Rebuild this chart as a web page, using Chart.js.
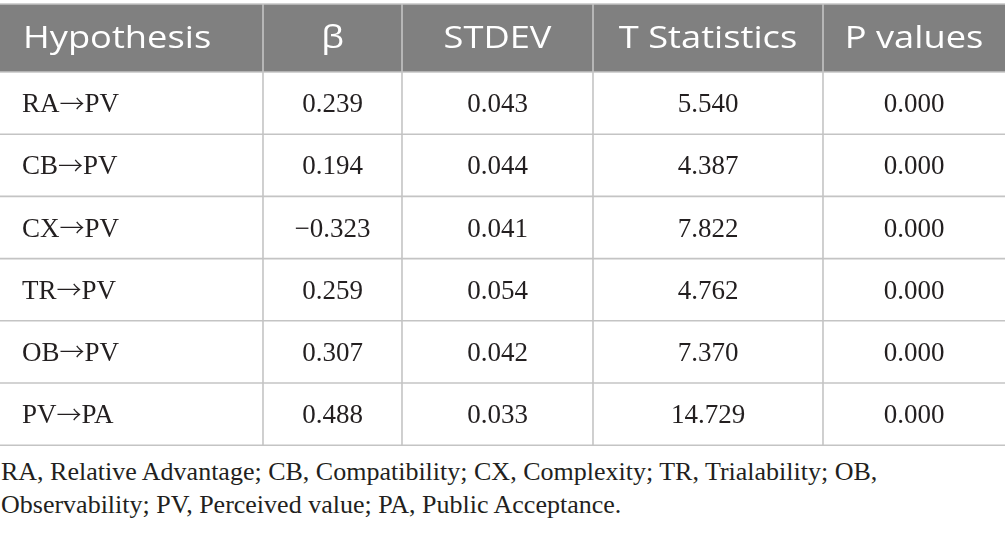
<!DOCTYPE html>
<html><head><meta charset="utf-8">
<script src="https://cdn.jsdelivr.net/npm/chart.js@4.4.1/dist/chart.umd.min.js"></script>
<style>
html,body{margin:0;padding:0;background:#fff;width:1005px;height:535px;overflow:hidden}
#wrap{position:relative;width:1005px;height:447px}
#note{margin:0;padding:0 0 0 1px;width:1000px;font-family:"Liberation Serif",serif;font-size:26px;line-height:33px;color:#231f20;margin-top:8px}
</style></head><body>
<div id="wrap"><canvas id="c" width="1005" height="447"></canvas></div>
<p id="note">RA, Relative Advantage; CB, Compatibility; CX, Complexity; TR, Trialability; OB, Observability; PV, Perceived value; PA, Public Acceptance.</p>
<script>
// ---- data ----
const columns = ["Hypothesis", "β", "STDEV", "T Statistics", "P values"];
const hypotheses = ["RA→PV", "CB→PV", "CX→PV", "TR→PV", "OB→PV", "PV→PA"];
const beta = ["0.239", "0.194", "−0.323", "0.259", "0.307", "0.488"];
const stdev = ["0.043", "0.044", "0.041", "0.054", "0.042", "0.033"];
const tStats = ["5.540", "4.387", "7.822", "4.762", "7.370", "14.729"];
const pValues = ["0.000", "0.000", "0.000", "0.000", "0.000", "0.000"];

// ---- layout (not data) ----
const COL_EDGES = [0, 263, 402, 593, 823, 1005];
const TABLE_TOP = 4, HEADER_H = 68, ROW_H = 62.2;
const TOTAL_H = 447;
const BODY_FONT = '27px "Liberation Serif"';
const ARROW_FONT = '200 25px "Noto Sans CJK JP"';

const rows = hypotheses.map((h, i) => [h, beta[i], stdev[i], tStats[i], pValues[i]]);
const rowEdges = [TABLE_TOP, TABLE_TOP + HEADER_H];
rows.forEach((r, i) => rowEdges.push(TABLE_TOP + HEADER_H + (i + 1) * ROW_H));

// left-aligned text where the arrow is drawn with a longer, thinner glyph
function drawMixed(ctx, text, x, y) {
  const parts = text.split('→');
  let cx = x;
  parts.forEach((p, i) => {
    ctx.font = BODY_FONT;
    ctx.fillText(p, cx, y);
    cx += ctx.measureText(p).width;
    if (i < parts.length - 1) {
      ctx.font = ARROW_FONT;
      ctx.fillText('→', cx, y + 0.5);
      cx += ctx.measureText('→').width;
    }
  });
  ctx.font = BODY_FONT;
}

const tablePlugin = {
  id: 'tablePlugin',
  afterDraw(chart) {
    const ctx = chart.ctx, xs = chart.scales.x, ys = chart.scales.y;
    const X = v => xs.getPixelForValue(v), Y = v => ys.getPixelForValue(v);
    ctx.save();
    // header background
    ctx.fillStyle = '#808080';
    ctx.fillRect(X(COL_EDGES[0]), Y(rowEdges[0]), X(COL_EDGES[5]) - X(COL_EDGES[0]), Y(rowEdges[1]) - Y(rowEdges[0]));
    // grid lines
    ctx.strokeStyle = '#c4c4c4';
    ctx.lineWidth = 1.6;
    rowEdges.forEach(r => {
      ctx.beginPath(); ctx.moveTo(X(COL_EDGES[0]), Y(r)); ctx.lineTo(X(COL_EDGES[5]), Y(r)); ctx.stroke();
    });
    COL_EDGES.slice(1, -1).forEach(c => {
      ctx.beginPath(); ctx.moveTo(X(c), Y(rowEdges[0])); ctx.lineTo(X(c), Y(rowEdges[rowEdges.length - 1])); ctx.stroke();
    });
    // header text
    ctx.fillStyle = '#ffffff';
    ctx.font = '31px "Open Sans"';
    ctx.textBaseline = 'alphabetic';
    const hy = Y(rowEdges[0] + 43.5);
    columns.forEach((t, ci) => {
      const left = ci === 0;
      const x = left ? X(COL_EDGES[0] + 23) : X((COL_EDGES[ci] + COL_EDGES[ci + 1]) / 2);
      ctx.save(); ctx.translate(x, hy); ctx.scale(1.17, 1);
      ctx.textAlign = left ? 'left' : 'center';
      ctx.fillText(t, 0, 0); ctx.restore();
    });
    // body text
    ctx.fillStyle = '#231f20';
    ctx.font = BODY_FONT;
    rows.forEach((r, ri) => {
      const yc = (rowEdges[ri + 1] + rowEdges[ri + 2]) / 2;
      r.forEach((t, ci) => {
        if (ci === 0) {
          ctx.textAlign = 'left';
          drawMixed(ctx, t, X(COL_EDGES[0] + 22), Y(yc + 9));
        } else {
          ctx.textAlign = 'center';
          ctx.fillText(t, X((COL_EDGES[ci] + COL_EDGES[ci + 1]) / 2), Y(yc + 9));
        }
      });
    });
    ctx.restore();
  }
};

new Chart(document.getElementById('c'), {
  type: 'scatter',
  data: { datasets: [{ data: [], pointRadius: 0 }] },
  options: {
    responsive: false, animation: false,
    layout: { padding: 0 },
    plugins: { legend: { display: false }, tooltip: { enabled: false } },
    scales: {
      x: { type: 'linear', min: 0, max: COL_EDGES[COL_EDGES.length - 1], display: false },
      y: { type: 'linear', min: 0, max: TOTAL_H, reverse: true, display: false }
    }
  },
  plugins: [tablePlugin]
});
</script>
</body></html>
